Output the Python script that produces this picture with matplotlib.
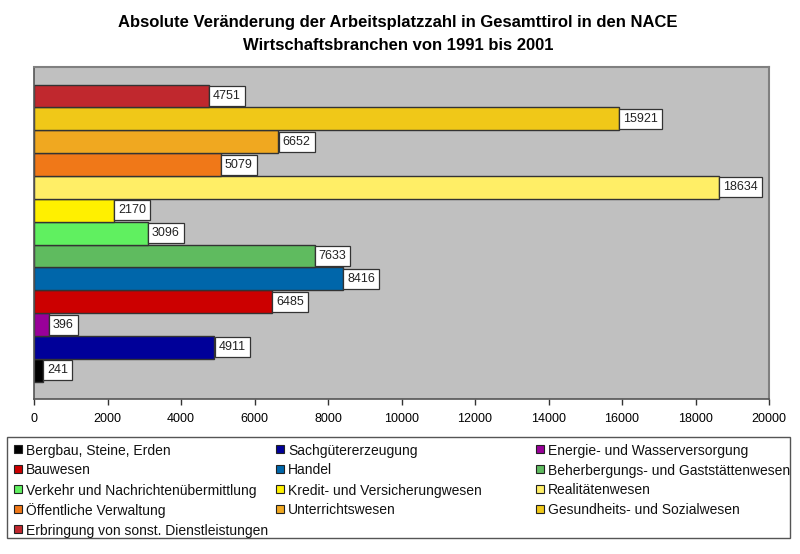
import matplotlib
matplotlib.use("Agg")
import matplotlib.pyplot as plt
from matplotlib.patches import Rectangle

plt.rcParams['font.family'] = ['Liberation Sans', 'DejaVu Sans']

categories = [
    "Bergbau, Steine, Erden",
    "Sachgütererzeugung",
    "Energie- und Wasserversorgung",
    "Bauwesen",
    "Handel",
    "Beherbergungs- und Gaststättenwesen",
    "Verkehr und Nachrichtenübermittlung",
    "Kredit- und Versicherungwesen",
    "Realitätenwesen",
    "Öffentliche Verwaltung",
    "Unterrichtswesen",
    "Gesundheits- und Sozialwesen",
    "Erbringung von sonst. Dienstleistungen",
]
values = [241, 4911, 396, 6485, 8416, 7633, 3096, 2170, 18634, 5079, 6652, 15921, 4751]
colors = ["#000000", "#000099", "#990099", "#CC0000", "#0066AA", "#5FBB5F",
          "#60F060", "#FFF000", "#FFEE66", "#F07818", "#F0A820", "#F0C818", "#C0282E"]
xticks = list(range(0, 20001, 2000))

W, H = 800, 554
fig = plt.figure(figsize=(W/100, H/100), dpi=100)
ax = fig.add_axes([34/W, (H-399)/H, 735/W, 332/H])
ax.set_facecolor("#C0C0C0")

ypos = list(range(len(values)))
ax.barh(ypos, values, height=1.0, color=colors, edgecolor="#333333", linewidth=1.0, zorder=2)
for y, v in zip(ypos, values):
    ax.annotate(str(v), xy=(v, y), xytext=(3, 0), textcoords="offset points",
                ha="left", va="center", fontsize=9, color="#222222", zorder=3,
                bbox=dict(boxstyle="square,pad=0.32", fc="white", ec="#333333", lw=0.9))

ax.set_xlim(0, 20000)
ax.set_ylim(-1.26, 13.27)
ax.set_xticks(xticks)
ax.set_xticklabels([str(t) for t in xticks], fontsize=9)
ax.set_yticks([])
ax.tick_params(axis="x", direction="out", length=4, width=1, color="#333333", pad=6)
for side in ["top", "right"]:
    ax.spines[side].set_color("#808080")
    ax.spines[side].set_linewidth(1.5)
ax.spines["left"].set_color("#555555")
ax.spines["bottom"].set_color("#555555")
ax.spines["left"].set_linewidth(1.2)
ax.spines["bottom"].set_linewidth(1.2)

fig.text(398/W, 1 - 22/H, "Absolute Veränderung der Arbeitsplatzzahl in Gesamttirol in den NACE",
         ha="center", va="center", fontsize=12, fontweight="bold")
fig.text(398/W, 1 - 45/H, "Wirtschaftsbranchen von 1991 bis 2001",
         ha="center", va="center", fontsize=12, fontweight="bold")

# legend box
fig.patches.append(Rectangle((7/W, 1 - 538/H), 783/W, 101/H, transform=fig.transFigure,
                             fc="white", ec="#555555", lw=1.0, zorder=0))

col_marker_x = [14, 276, 536]
row_y = [449, 469, 489, 509, 529]
ncol = 3
for i, (cat, col) in enumerate(zip(categories, colors)):
    r, c = divmod(i, ncol)
    mx = col_marker_x[c]
    yc = row_y[r]
    fig.patches.append(Rectangle((mx/W, 1 - (yc + 4)/H), 8/W, 8/H, transform=fig.transFigure,
                                 fc=col, ec="#222222", lw=0.8, zorder=1))
    fig.text((mx + 12)/W, 1 - yc/H, cat, ha="left", va="center_baseline", fontsize=10,
             color="#111111")

fig.savefig("out.png", dpi=100)
